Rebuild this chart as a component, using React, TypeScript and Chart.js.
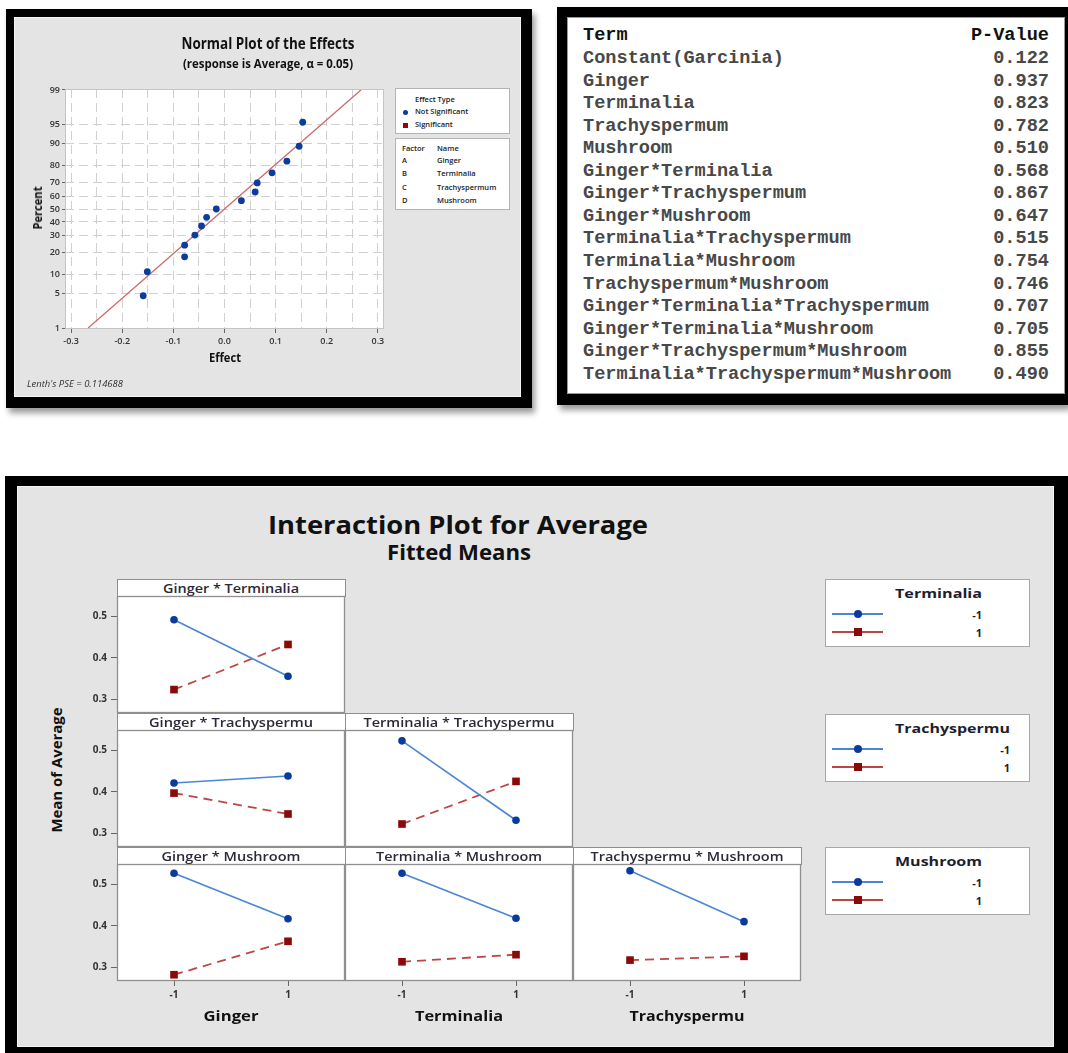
import React, { useEffect, useRef } from 'react';
import { Chart, registerables } from 'chart.js';

Chart.register(...registerables);

// ---------------- Data ----------------
// Normal plot of the effects
const effectValues = [-0.159, -0.151, -0.078, -0.078, -0.058, -0.045, -0.035, -0.016, 0.033, 0.06, 0.064, 0.093, 0.122, 0.146, 0.153];
const effectPercents = [4.5, 11.0, 17.5, 24.0, 30.5, 37.0, 43.5, 50.0, 56.5, 63.0, 69.5, 76.0, 82.5, 89.0, 95.5];
const percentTicks = [1, 5, 10, 20, 30, 40, 50, 60, 70, 80, 90, 95, 99];
const effectTicks = [-0.3, -0.25, -0.2, -0.15, -0.1, -0.05, 0, 0.05, 0.1, 0.15, 0.2, 0.25, 0.3];
const lenthPSE = 0.114688;
const referenceLinePercents = [1, 99];
const factorCodes = ['A', 'B', 'C', 'D'];
const factorNames = ['Ginger', 'Terminalia', 'Trachyspermum', 'Mushroom'];

// P-value table
const tableTerms = [
  'Constant(Garcinia)',
  'Ginger',
  'Terminalia',
  'Trachyspermum',
  'Mushroom',
  'Ginger*Terminalia',
  'Ginger*Trachyspermum',
  'Ginger*Mushroom',
  'Terminalia*Trachyspermum',
  'Terminalia*Mushroom',
  'Trachyspermum*Mushroom',
  'Ginger*Terminalia*Trachyspermum',
  'Ginger*Terminalia*Mushroom',
  'Ginger*Trachyspermum*Mushroom',
  'Terminalia*Trachyspermum*Mushroom',
];
const tablePValues = [0.122, 0.937, 0.823, 0.782, 0.51, 0.568, 0.867, 0.647, 0.515, 0.754, 0.746, 0.707, 0.705, 0.855, 0.49];

// Interaction plot (fitted means at x = -1, 1)
const levelValues = [-1, 1];
const levelLabels = ['-1', '1'];
const meanTicks = [0.3, 0.4, 0.5];
const xFactors = ['Ginger', 'Terminalia', 'Trachyspermu'];
const traceFactors = ['Terminalia', 'Trachyspermu', 'Mushroom'];
const gingerTerminaliaLow = [0.491, 0.356];
const gingerTerminaliaHigh = [0.324, 0.432];
const gingerTrachyLow = [0.421, 0.438];
const gingerTrachyHigh = [0.397, 0.347];
const terminaliaTrachyLow = [0.522, 0.332];
const terminaliaTrachyHigh = [0.323, 0.425];
const gingerMushroomLow = [0.526, 0.417];
const gingerMushroomHigh = [0.283, 0.363];
const terminaliaMushroomLow = [0.526, 0.418];
const terminaliaMushroomHigh = [0.314, 0.331];
const trachyMushroomLow = [0.532, 0.41];
const trachyMushroomHigh = [0.318, 0.327];

const panelMeans = [
  [[gingerTerminaliaLow, gingerTerminaliaHigh]],
  [[gingerTrachyLow, gingerTrachyHigh], [terminaliaTrachyLow, terminaliaTrachyHigh]],
  [[gingerMushroomLow, gingerMushroomHigh], [terminaliaMushroomLow, terminaliaMushroomHigh], [trachyMushroomLow, trachyMushroomHigh]],
];

// ---------------- Layout / style ----------------
const SANS = "'Open Sans', 'Noto Sans', sans-serif";
const MONO = "'Liberation Mono', 'DejaVu Sans Mono', monospace";
const GRAY_BG = '#e4e4e4';
const BLUE_LINE = '#4a86d4';
const BLUE_MARK = '#0a3a9c';
const RED_LINE = '#bb4646';
const RED_MARK = '#8a0a0a';

const PANEL_X0 = 117;
const PANEL_W = 228;
const ROW_TOPS = [579, 713, 847];
const HEADER_H = 17;
const PLOT_H = 117;
const HEADER_W = [[136], [164, 191], [139, 166, 193]];
const AXIS_TITLE_W = [55, 88, 115];
const LEGEND_TOPS = [579, 714, 847];
const LEGEND_TITLE_W = [87, 115, 87];

// inverse standard normal CDF (probability axis transform)
function probit(p: number): number {
  const a = [-3.969683028665376e1, 2.209460984245205e2, -2.759285104469687e2, 1.38357751867269e2, -3.066479806614716e1, 2.506628277459239];
  const b = [-5.447609879822406e1, 1.615858368580409e2, -1.556989798598866e2, 6.680131188771972e1, -1.328068155288572e1];
  const c = [-7.784894002430293e-3, -3.223964580411365e-1, -2.400758277161838, -2.549732539343734, 4.374664141464968, 2.938163982698783];
  const d = [7.784695709041462e-3, 3.224671290700398e-1, 2.445134137142996, 3.754408661907416];
  const pl = 0.02425;
  if (p < pl) {
    const q = Math.sqrt(-2 * Math.log(p));
    return (((((c[0] * q + c[1]) * q + c[2]) * q + c[3]) * q + c[4]) * q + c[5]) / ((((d[0] * q + d[1]) * q + d[2]) * q + d[3]) * q + 1);
  }
  if (p > 1 - pl) {
    const q = Math.sqrt(-2 * Math.log(1 - p));
    return -(((((c[0] * q + c[1]) * q + c[2]) * q + c[3]) * q + c[4]) * q + c[5]) / ((((d[0] * q + d[1]) * q + d[2]) * q + d[3]) * q + 1);
  }
  const q = p - 0.5;
  const r = q * q;
  return ((((((a[0] * r + a[1]) * r + a[2]) * r + a[3]) * r + a[4]) * r + a[5]) * q) / (((((b[0] * r + b[1]) * r + b[2]) * r + b[3]) * r + b[4]) * r + 1);
}

let measureCanvas: HTMLCanvasElement | null = null;
function measure(text: string, font: string): number {
  if (!measureCanvas) measureCanvas = document.createElement('canvas');
  const ctx = measureCanvas.getContext('2d')!;
  ctx.font = font;
  return ctx.measureText(text).width || 1;
}

type FTProps = {
  text: string; x: number; y: number; w?: number; size: number; weight?: number;
  italic?: boolean; align?: 'left' | 'center' | 'right'; rotate?: boolean; color?: string; family?: string;
};
function FitText({ text, x, y, w, size, weight = 700, italic = false, align = 'center', rotate = false, color = '#111', family = SANS }: FTProps) {
  const font = `${italic ? 'italic ' : ''}${weight} ${size}px ${family}`;
  const sx = w ? w / measure(text, font) : 1;
  let transform: string;
  let origin: string;
  if (rotate) { transform = `translate(-50%, -50%) rotate(-90deg) scaleX(${sx})`; origin = '50% 50%'; }
  else if (align === 'center') { transform = `translate(-50%, -50%) scaleX(${sx})`; origin = '50% 50%'; }
  else if (align === 'left') { transform = `translateY(-50%) scaleX(${sx})`; origin = '0 50%'; }
  else { transform = `translate(-100%, -50%) scaleX(${sx})`; origin = '100% 50%'; }
  return (
    <div style={{
      position: 'absolute', left: x, top: y, fontFamily: family, fontSize: size, fontWeight: weight,
      fontStyle: italic ? 'italic' : 'normal', lineHeight: 1, color, whiteSpace: 'nowrap', transform, transformOrigin: origin,
    }}>{text}</div>
  );
}

const frameAreaPlugin = {
  id: 'frameArea',
  beforeDraw(chart: any, _a: any, opts: any) {
    const { ctx, chartArea: a } = chart;
    ctx.save();
    ctx.fillStyle = opts.fill || '#fff';
    ctx.fillRect(a.left, a.top, a.right - a.left, a.bottom - a.top);
    ctx.restore();
  },
  afterDraw(chart: any, _a: any, opts: any) {
    const { ctx, chartArea: a } = chart;
    ctx.save();
    ctx.strokeStyle = opts.color || '#999';
    ctx.lineWidth = opts.width || 1;
    ctx.strokeRect(a.left + 0.5, a.top + 0.5, a.right - a.left - 1, a.bottom - a.top - 1);
    ctx.restore();
  },
};

// ---------------- Normal plot ----------------
function NormalPlot() {
  const ref = useRef<HTMLCanvasElement>(null);
  const left = 14, top = 17, width = 507, height = 380;
  useEffect(() => {
    const isMajor = (v: number) => Math.abs(v * 10 - Math.round(v * 10)) < 1e-6;
    const tickFont = { family: SANS, size: 9, weight: '600' as any };
    const chart = new Chart(ref.current!, {
      type: 'scatter',
      data: {
        datasets: [
          {
            type: 'line', label: 'Reference',
            data: referenceLinePercents.map(p => ({ x: lenthPSE * probit(p / 100), y: probit(p / 100) })),
            borderColor: '#d06a6a', borderWidth: 1.3, pointRadius: 0, order: 2,
          } as any,
          {
            type: 'scatter', label: 'Not Significant',
            data: effectValues.map((e, i) => ({ x: e, y: probit(effectPercents[i] / 100) })),
            pointRadius: 3.4, pointBackgroundColor: '#0b3c9e', pointBorderColor: '#0b3c9e', pointBorderWidth: 0, order: 1,
          } as any,
        ],
      },
      options: {
        animation: false, responsive: false, maintainAspectRatio: false, events: [],
        layout: { autoPadding: false, padding: { left: 26, top: 72, right: 137, bottom: 48 } },
        plugins: { legend: { display: false }, tooltip: { enabled: false }, title: { display: false }, frameArea: { fill: '#fff', color: '#c4c4c4', width: 1 } } as any,
        scales: {
          x: {
            type: 'linear', min: -0.312, max: 0.312,
            afterBuildTicks: (s: any) => { s.ticks = effectTicks.map(v => ({ value: v })); },
            afterFit: (s: any) => { s.height = 20; s.paddingLeft = 0; s.paddingRight = 0; },
            ticks: { autoSkip: false, maxRotation: 0, padding: 3, color: '#333', font: tickFont, callback: (v: any) => (isMajor(Number(v)) ? Number(v).toFixed(1) : '') },
            grid: { color: '#d0d0d0', lineWidth: 1, drawTicks: true, tickLength: 4, tickColor: (c: any) => (c.tick && isMajor(c.tick.value) ? '#666' : 'rgba(0,0,0,0)') },
            border: { display: false, dash: [9, 5] },
          },
          y: {
            type: 'linear', min: -2.345, max: 2.345,
            afterBuildTicks: (s: any) => { s.ticks = percentTicks.map(p => ({ value: probit(p / 100) })); },
            afterFit: (s: any) => { s.width = 25; s.paddingTop = 0; s.paddingBottom = 0; },
            ticks: { autoSkip: false, padding: 2, color: '#333', font: tickFont, callback: (_v: any, i: number) => String(percentTicks[i]) },
            grid: { color: '#d0d0d0', lineWidth: 1, drawTicks: true, tickLength: 3, tickColor: '#666' },
            border: { display: false, dash: [9, 5] },
          },
        },
      },
      plugins: [frameAreaPlugin],
    });
    return () => chart.destroy();
  }, []);
  return <canvas ref={ref} width={width} height={height} style={{ position: 'absolute', left, top, width, height }} />;
}

// ---------------- Interaction panel ----------------
function PanelChart({ row, col, low, high }: { row: number; col: number; low: number[]; high: number[] }) {
  const ref = useRef<HTMLCanvasElement>(null);
  const showY = col === 0;
  const showX = row === 2;
  const yW = 45, xH = 26, pad = 2;
  const plotLeft = PANEL_X0 + col * PANEL_W;
  const plotTop = ROW_TOPS[row] + HEADER_H;
  const left = plotLeft - (showY ? yW : pad);
  const top = plotTop - pad;
  const width = PANEL_W + (showY ? yW : pad) + pad;
  const height = PLOT_H + pad + (showX ? xH : pad);
  useEffect(() => {
    const tickFont = { family: SANS, size: 10, weight: '700' as any };
    const chart = new Chart(ref.current!, {
      type: 'line',
      data: {
        datasets: [
          {
            label: '-1', data: levelValues.map((x, i) => ({ x, y: low[i] })),
            borderColor: BLUE_LINE, borderWidth: 1.6, pointStyle: 'circle', pointRadius: 3.8,
            pointBackgroundColor: BLUE_MARK, pointBorderColor: BLUE_MARK, pointBorderWidth: 0,
          },
          {
            label: '1', data: levelValues.map((x, i) => ({ x, y: high[i] })),
            borderColor: RED_LINE, borderWidth: 1.8, borderDash: [9, 6], pointStyle: 'rect', pointRadius: 5.4,
            pointBackgroundColor: RED_MARK, pointBorderColor: RED_MARK, pointBorderWidth: 0,
          },
        ],
      },
      options: {
        animation: false, responsive: false, maintainAspectRatio: false, events: [],
        layout: { autoPadding: false, padding: { left: showY ? 0 : pad, right: pad, top: pad, bottom: showX ? 0 : pad } },
        plugins: { legend: { display: false }, tooltip: { enabled: false }, frameArea: { fill: '#fff', color: '#8f8f8f', width: 1.3 } } as any,
        scales: {
          x: {
            type: 'linear', min: -2, max: 2, display: showX,
            afterBuildTicks: (s: any) => { s.ticks = levelValues.map(v => ({ value: v })); },
            afterFit: (s: any) => { s.height = showX ? xH : 0; s.paddingLeft = 0; s.paddingRight = 0; },
            ticks: { autoSkip: false, maxRotation: 0, padding: 3, color: '#333', font: tickFont, callback: (_v: any, i: number) => levelLabels[i] },
            grid: { drawOnChartArea: false, drawTicks: true, tickLength: 5, tickColor: '#666', tickWidth: 1 },
            border: { display: false },
          },
          y: {
            type: 'linear', min: 0.268, max: 0.548, display: showY,
            afterBuildTicks: (s: any) => { s.ticks = meanTicks.map(v => ({ value: v })); },
            afterFit: (s: any) => { s.width = showY ? yW : 0; s.paddingTop = 0; s.paddingBottom = 0; },
            ticks: { autoSkip: false, padding: 4, color: '#333', font: tickFont, callback: (v: any) => Number(v).toFixed(1) },
            grid: { drawOnChartArea: false, drawTicks: true, tickLength: 6, tickColor: '#666', tickWidth: 1 },
            border: { display: false },
          },
        },
      },
      plugins: [frameAreaPlugin],
    });
    return () => chart.destroy();
  }, []);
  return <canvas ref={ref} width={width} height={height} style={{ position: 'absolute', left, top, width, height }} />;
}

function LegendSwatch({ y, color, mark, square }: { y: number; color: string; mark: string; square: boolean }) {
  return (
    <>
      <div style={{ position: 'absolute', left: 832, top: y - 0.9, width: 51, height: 1.8, background: color }} />
      <div style={{
        position: 'absolute', left: 858 - 4, top: y - 4, width: 8, height: 8, background: mark,
        borderRadius: square ? 0 : '50%',
      }} />
    </>
  );
}

export default function App() {
  const tableRowY = (i: number) => 59 + i * 22.55;
  return (
    <div style={{ position: 'absolute', left: 0, top: 0, width: 1068, height: 1053, background: '#fff', overflow: 'hidden' }}>
      {/* ---------- Top-left frame: normal plot ---------- */}
      <div style={{ position: 'absolute', left: 6, top: 9, width: 526, height: 399, background: '#000', boxShadow: '3px 5px 6px rgba(0,0,0,0.4)' }} />
      <div style={{ position: 'absolute', left: 14, top: 17, width: 507, height: 380, background: GRAY_BG, boxSizing: 'border-box', border: '1px solid #f4f4f4' }} />
      <NormalPlot />
      <FitText text="Normal Plot of the Effects" x={268} y={44} w={173} size={15.5} />
      <FitText text="(response is Average, α = 0.05)" x={268} y={64} w={170} size={11.5} />
      <FitText text="Percent" x={38} y={208} w={43} size={12} rotate />
      <FitText text="Effect" x={225} y={357} w={32} size={13} />
      <FitText text="Lenth's PSE = 0.114688" x={27} y={383} w={96} size={9} weight={400} italic align="left" color="#333" />
      {/* legend boxes */}
      <div style={{ position: 'absolute', left: 395, top: 88, width: 115, height: 46, background: '#fff', boxSizing: 'border-box', border: '1px solid #b4b4b4' }} />
      <FitText text="Effect Type" x={415} y={100} size={7.5} weight={600} align="left" color="#222" />
      <div style={{ position: 'absolute', left: 403, top: 109.5, width: 5, height: 5, borderRadius: '50%', background: '#0b3c9e' }} />
      <FitText text="Not Significant" x={415} y={112.3} size={7.5} weight={600} align="left" color="#222" />
      <div style={{ position: 'absolute', left: 403, top: 122.5, width: 5, height: 5, background: '#a00000' }} />
      <FitText text="Significant" x={415} y={125} size={7.5} weight={600} align="left" color="#222" />
      <div style={{ position: 'absolute', left: 395, top: 138, width: 115, height: 72, background: '#fff', boxSizing: 'border-box', border: '1px solid #b4b4b4' }} />
      <FitText text="Factor" x={402} y={149} size={7.5} weight={600} align="left" color="#222" />
      <FitText text="Name" x={437} y={149} size={7.5} weight={600} align="left" color="#222" />
      {factorCodes.map((code, i) => (
        <React.Fragment key={code}>
          <FitText text={code} x={402} y={161 + i * 13.3} size={7.5} weight={600} align="left" color="#222" />
          <FitText text={factorNames[i]} x={437} y={161 + i * 13.3} size={7.5} weight={600} align="left" color="#222" />
        </React.Fragment>
      ))}

      {/* ---------- Top-right frame: p-value table ---------- */}
      <div style={{ position: 'absolute', left: 557, top: 7, width: 511, height: 398, background: '#000', boxShadow: '3px 5px 6px rgba(0,0,0,0.4)' }} />
      <div style={{ position: 'absolute', left: 567, top: 17, width: 498, height: 377, background: '#fff', boxSizing: 'border-box', border: '1px solid #9a9a9a' }} />
      <FitText text="Term" x={583} y={36} size={18.6} weight={700} align="left" family={MONO} color="#111" />
      <FitText text="P-Value" x={1049} y={36} size={18.6} weight={700} align="right" family={MONO} color="#111" />
      {tableTerms.map((t, i) => (
        <React.Fragment key={t}>
          <FitText text={t} x={583} y={tableRowY(i)} size={18.6} weight={700} align="left" family={MONO} color="#484848" />
          <FitText text={tablePValues[i].toFixed(3)} x={1049} y={tableRowY(i)} size={18.6} weight={700} align="right" family={MONO} color="#484848" />
        </React.Fragment>
      ))}

      {/* ---------- Bottom frame: interaction plot ---------- */}
      <div style={{ position: 'absolute', left: 5, top: 476, width: 1063, height: 577, background: '#000' }} />
      <div style={{ position: 'absolute', left: 17, top: 486, width: 1037, height: 561, background: GRAY_BG, boxSizing: 'border-box', border: '1px solid #f4f4f4' }} />
      <FitText text="Interaction Plot for Average" x={458} y={525} w={380} size={25.5} />
      <FitText text="Fitted Means" x={459} y={552} w={144} size={21} />
      <FitText text="Mean of Average" x={56.5} y={769.5} w={125} size={14} rotate />
      {panelMeans.map((rowPanels, r) =>
        rowPanels.map(([low, high], c) => (
          <React.Fragment key={`${r}-${c}`}>
            <div style={{
              position: 'absolute', left: PANEL_X0 + c * PANEL_W, top: ROW_TOPS[r], width: PANEL_W + 1, height: HEADER_H + 1,
              background: '#fff', boxSizing: 'border-box', border: '1px solid #8f8f8f',
            }} />
            <FitText text={`${xFactors[c]} * ${traceFactors[r]}`} x={PANEL_X0 + c * PANEL_W + PANEL_W / 2} y={ROW_TOPS[r] + 8.7}
              w={HEADER_W[r][c]} size={13} weight={600} color="#2a2a3a" />
            <PanelChart row={r} col={c} low={low} high={high} />
          </React.Fragment>
        ))
      )}
      {xFactors.map((f, c) => (
        <FitText key={f} text={f} x={PANEL_X0 + c * PANEL_W + PANEL_W / 2} y={1016} w={AXIS_TITLE_W[c]} size={14} />
      ))}
      {traceFactors.map((f, i) => {
        const top = LEGEND_TOPS[i];
        const right = 895 + LEGEND_TITLE_W[i];
        return (
          <React.Fragment key={f}>
            <div style={{ position: 'absolute', left: 825, top, width: 205, height: 68, background: '#fff', boxSizing: 'border-box', border: '1px solid #a8a8a8' }} />
            <FitText text={f} x={895} y={top + 14} w={LEGEND_TITLE_W[i]} size={13} align="left" color="#1e1e2e" />
            <LegendSwatch y={top + 35} color={BLUE_LINE} mark={BLUE_MARK} square={false} />
            <LegendSwatch y={top + 53} color={RED_LINE} mark={RED_MARK} square />
            <FitText text={levelLabels[0]} x={right} y={top + 35} size={11} align="right" color="#1e1e2e" />
            <FitText text={levelLabels[1]} x={right} y={top + 53} size={11} align="right" color="#1e1e2e" />
          </React.Fragment>
        );
      })}
    </div>
  );
}
